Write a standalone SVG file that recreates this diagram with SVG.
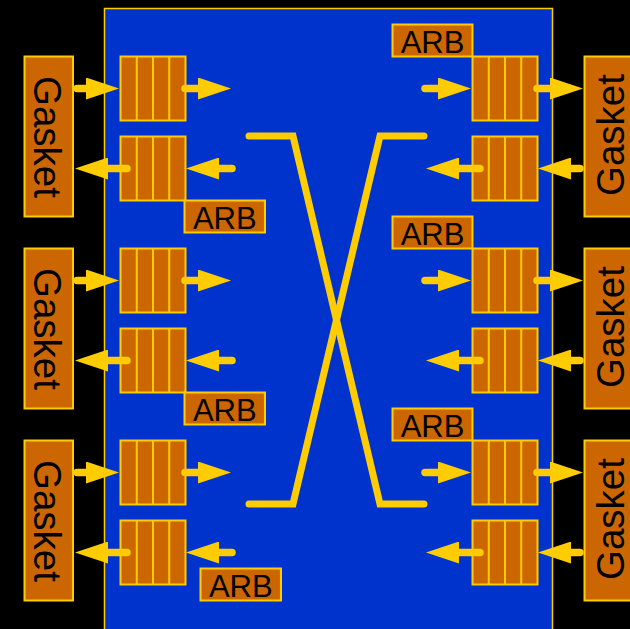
<svg xmlns="http://www.w3.org/2000/svg" width="630" height="629" viewBox="0 0 630 629">
<defs>
<style>
.gk{fill:#CC6600;stroke:#FFCC00;stroke-width:2}
.q{fill:#CC6600;stroke:#FFCC00;stroke-width:2}
.arb{fill:#CC6600;stroke:#FFCC00;stroke-width:2}
.t{font-family:"Liberation Sans",Arial,sans-serif;fill:#000}
.ta{font-size:31px;text-anchor:middle}
.tg{font-size:38.5px;text-anchor:middle}
.ar{stroke:#FFCC00;stroke-width:7.5;stroke-linecap:round;fill:none}
.x{stroke:#FFCC00;stroke-width:7;stroke-linecap:round;stroke-linejoin:miter;fill:none}
</style>
<marker id="ah" viewBox="0 0 33 22" refX="0" refY="11" markerWidth="33" markerHeight="22" markerUnits="userSpaceOnUse" orient="auto">
<path d="M0,0 L33,11 L0,22 z" fill="#FFCC00"/>
</marker>
<g id="queue">
<rect class="q" x="0" y="0" width="65" height="64"/>
<line class="q" x1="16.25" y1="0" x2="16.25" y2="64"/>
<line class="q" x1="32.5" y1="0" x2="32.5" y2="64"/>
<line class="q" x1="48.75" y1="0" x2="48.75" y2="64"/>
</g>
</defs>
<rect x="0" y="0" width="630" height="629" fill="#000"/>
<rect id="chip" x="104.5" y="8.5" width="448" height="640" fill="#0033CC" stroke="#FFCC00" stroke-width="1.5"/>

<g id="gasket-l1"><rect class="gk" x="24.5" y="56.5" width="48.5" height="160"/><text class="t tg" transform="translate(48.5,137) rotate(90)" y="15">Gasket</text></g>
<g id="gasket-l2"><rect class="gk" x="24.5" y="248.5" width="48.5" height="160"/><text class="t tg" transform="translate(48.5,329) rotate(90)" y="15">Gasket</text></g>
<g id="gasket-l3"><rect class="gk" x="24.5" y="440.5" width="48.5" height="160"/><text class="t tg" transform="translate(48.5,521) rotate(90)" y="15">Gasket</text></g>
<g id="gasket-r1"><rect class="gk" x="584.5" y="56.5" width="60" height="160"/><text class="t tg" transform="translate(608.5,135) rotate(-90)" y="15">Gasket</text></g>
<g id="gasket-r2"><rect class="gk" x="584.5" y="248.5" width="60" height="160"/><text class="t tg" transform="translate(608.5,327) rotate(-90)" y="15">Gasket</text></g>
<g id="gasket-r3"><rect class="gk" x="584.5" y="440.5" width="60" height="160"/><text class="t tg" transform="translate(608.5,519) rotate(-90)" y="15">Gasket</text></g>

<g id="q-l1-in"><use href="#queue" x="120.5" y="56.5"/></g>
<g id="q-l1-out"><use href="#queue" x="120.5" y="136.5"/></g>
<g id="q-l2-in"><use href="#queue" x="120.5" y="248.5"/></g>
<g id="q-l2-out"><use href="#queue" x="120.5" y="328.5"/></g>
<g id="q-l3-in"><use href="#queue" x="120.5" y="440.5"/></g>
<g id="q-l3-out"><use href="#queue" x="120.5" y="520.5"/></g>
<g id="q-r1-out"><use href="#queue" x="472.5" y="56.5"/></g>
<g id="q-r1-in"><use href="#queue" x="472.5" y="136.5"/></g>
<g id="q-r2-out"><use href="#queue" x="472.5" y="248.5"/></g>
<g id="q-r2-in"><use href="#queue" x="472.5" y="328.5"/></g>
<g id="q-r3-out"><use href="#queue" x="472.5" y="440.5"/></g>
<g id="q-r3-in"><use href="#queue" x="472.5" y="520.5"/></g>

<g id="arb-l1"><rect class="arb" x="184.5" y="200.5" width="80.5" height="32"/><text class="t ta" x="224.75" y="229">ARB</text></g>
<g id="arb-l2"><rect class="arb" x="184.5" y="392.5" width="80.5" height="32"/><text class="t ta" x="224.75" y="421">ARB</text></g>
<g id="arb-l3"><rect class="arb" x="200.5" y="568.5" width="80.5" height="32"/><text class="t ta" x="240.75" y="597">ARB</text></g>
<g id="arb-r1"><rect class="arb" x="392.5" y="24.5" width="80" height="32"/><text class="t ta" x="432.5" y="53">ARB</text></g>
<g id="arb-r2"><rect class="arb" x="392.5" y="216.5" width="80" height="32"/><text class="t ta" x="432.5" y="245">ARB</text></g>
<g id="arb-r3"><rect class="arb" x="392.5" y="408.5" width="80" height="32"/><text class="t ta" x="432.5" y="437">ARB</text></g>

<g id="connectors">
<path class="x" d="M249,136 L293,136 L380,504 L424,504"/>
<path class="x" d="M424,136 L380,136 L293,504 L249,504"/>

<line class="ar" x1="77" y1="88.5" x2="86" y2="88.5" marker-end="url(#ah)"/>
<line class="ar" x1="185" y1="88.5" x2="198" y2="88.5" marker-end="url(#ah)"/>
<line class="ar" x1="232" y1="168.5" x2="219" y2="168.5" marker-end="url(#ah)"/>
<line class="ar" x1="127" y1="168.5" x2="108" y2="168.5" marker-end="url(#ah)"/>
<line class="ar" x1="77" y1="280.5" x2="86" y2="280.5" marker-end="url(#ah)"/>
<line class="ar" x1="185" y1="280.5" x2="198" y2="280.5" marker-end="url(#ah)"/>
<line class="ar" x1="232" y1="360.5" x2="219" y2="360.5" marker-end="url(#ah)"/>
<line class="ar" x1="127" y1="360.5" x2="108" y2="360.5" marker-end="url(#ah)"/>
<line class="ar" x1="77" y1="472.5" x2="86" y2="472.5" marker-end="url(#ah)"/>
<line class="ar" x1="185" y1="472.5" x2="198" y2="472.5" marker-end="url(#ah)"/>
<line class="ar" x1="232" y1="552.5" x2="219" y2="552.5" marker-end="url(#ah)"/>
<line class="ar" x1="127" y1="552.5" x2="108" y2="552.5" marker-end="url(#ah)"/>

<line class="ar" x1="425" y1="88.5" x2="438" y2="88.5" marker-end="url(#ah)"/>
<line class="ar" x1="537" y1="88.5" x2="550" y2="88.5" marker-end="url(#ah)"/>
<line class="ar" x1="580" y1="168.5" x2="571" y2="168.5" marker-end="url(#ah)"/>
<line class="ar" x1="480" y1="168.5" x2="459" y2="168.5" marker-end="url(#ah)"/>
<line class="ar" x1="425" y1="280.5" x2="438" y2="280.5" marker-end="url(#ah)"/>
<line class="ar" x1="537" y1="280.5" x2="550" y2="280.5" marker-end="url(#ah)"/>
<line class="ar" x1="580" y1="360.5" x2="571" y2="360.5" marker-end="url(#ah)"/>
<line class="ar" x1="480" y1="360.5" x2="459" y2="360.5" marker-end="url(#ah)"/>
<line class="ar" x1="425" y1="472.5" x2="438" y2="472.5" marker-end="url(#ah)"/>
<line class="ar" x1="537" y1="472.5" x2="550" y2="472.5" marker-end="url(#ah)"/>
<line class="ar" x1="580" y1="552.5" x2="571" y2="552.5" marker-end="url(#ah)"/>
<line class="ar" x1="480" y1="552.5" x2="459" y2="552.5" marker-end="url(#ah)"/>
</g>
</svg>
